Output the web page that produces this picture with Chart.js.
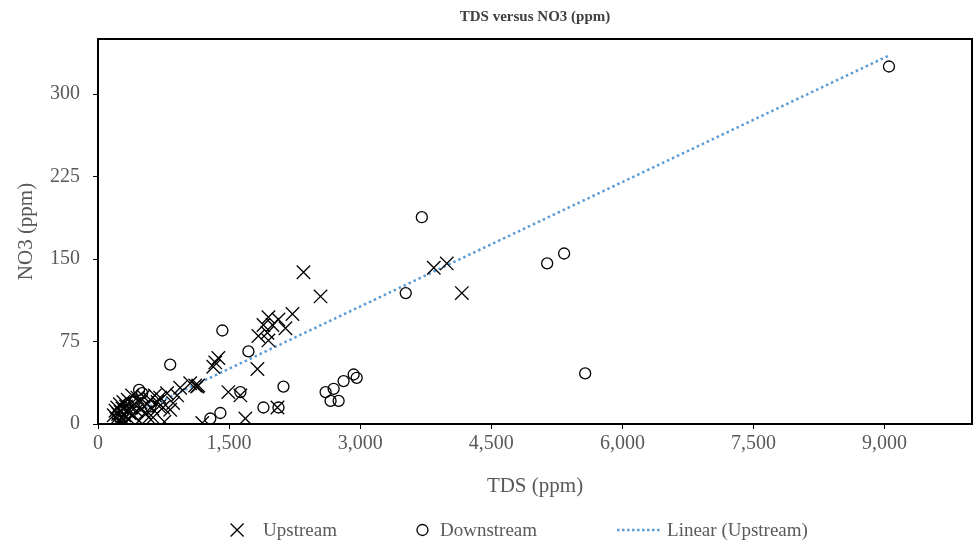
<!DOCTYPE html>
<html>
<head>
<meta charset="utf-8">
<script src="https://cdn.jsdelivr.net/npm/chart.js@4"></script>
<style>
  html, body { margin: 0; padding: 0; background: #fff; }
  #wrap { width: 975px; height: 544px; }
</style>
</head>
<body>
<div id="wrap"><canvas id="tdsChart" width="975" height="544"></canvas></div>
<script>
// values
const upTds = [2351, 2546, 3842, 3991, 4163, 2225, 1950, 2065, 1893, 1996, 2145, 1938, 1950, 1835,
    1342, 1377, 1319, 1824, 1491, 1629, 2053, 1686, 1055, 1135, 940, 906, 860, 826, 1193, 711, 745,
    630, 539, 1112, 1147,
    180, 200, 210, 220, 230, 240, 250, 260, 270, 280, 290, 300, 310, 320, 330, 340, 350, 360, 380,
    390, 400, 420, 440, 450, 470, 480, 500, 520, 560, 580, 600, 620, 650, 680, 700, 790, 760, 230, 300];
const upNo3 = [138, 116, 142, 146, 119, 100, 97, 95, 90, 90, 87, 83, 76, 80,
    56, 60, 52, 50, 29, 26, 15, 5, 37, 34, 33, 26, 19, 13, 1, 24, 15,
    6, 10, 35, 35,
    8, 12, 5, 15, 9, 3, 18, 11, 6, 14, 20, 8, 2, 16, 12, 22, 5, 10, 15,
    26, 8, 18, 12, 24, 3, 20, 14, 25, 18, 6, 22, 14, 26, 20, 16, 28, 2, 0, 0];

const downTds = [9050, 3705, 3521, 5139, 5333, 5574, 1423, 1721, 826, 2122, 1629, 1893, 2065, 1400,
    1285, 2604, 2696, 2810, 2925, 2960, 2661, 2753, 470, 505, 300, 420, 600, 250];
const downNo3 = [325, 188, 119, 146, 155, 46, 85, 66, 54, 34, 29, 15, 15, 10,
    5, 29, 32, 39, 45, 42, 21, 21, 31, 28, 12, 20, 16, 6];

// ends of the Excel linear trendline (Upstream)
const trendTds = [200, 9050];
const trendNo3 = [1.2, 335];

const xTicks = [0, 1500, 3000, 4500, 6000, 7500, 9000];
const yTicks = [0, 75, 150, 225, 300];

const serif = "'Liberation Serif', 'Times New Roman', serif";
const grey = '#595959';
const trendBlue = '#5B9BD5';

const toPoints = (xs, ys) => xs.map((x, i) => ({x: x, y: ys[i]}));

const frame = {
    id: 'frame',
    afterDatasetsDraw(chart) {
        const a = chart.chartArea, c = chart.ctx;
        c.save();
        c.strokeStyle = '#000';
        c.lineWidth = 2;
        c.strokeRect(a.left, a.top, a.right - a.left, a.bottom - a.top);
        c.restore();
    }
};

// hand-drawn legend so the dotted sample can be long like in Excel
const bottomLegend = {
    id: 'bottomLegend',
    afterDraw(chart) {
        const c = chart.ctx;
        const y = 530;
        c.save();
        c.font = '19px ' + serif;
        c.fillStyle = grey;
        c.textBaseline = 'middle';
        const items = [
            {label: 'Upstream', kind: 'x', w: 14, gap: 19},
            {label: 'Downstream', kind: 'o', w: 11, gap: 12},
            {label: 'Linear (Upstream)', kind: 'line', w: 43, gap: 7}
        ];
        const spacing = 80;
        let total = 0;
        items.forEach((it, i) => {
            it.tw = c.measureText(it.label).width;
            total += it.w + it.gap + it.tw + (i ? spacing : 0);
        });
        let x = 519 - total / 2;
        items.forEach((it, i) => {
            if (i) x += spacing;
            const cx = x + it.w / 2;
            c.strokeStyle = '#000';
            c.lineWidth = 1.3;
            c.setLineDash([]);
            if (it.kind === 'x') {
                c.beginPath();
                c.moveTo(cx - 6.5, y - 6.5); c.lineTo(cx + 6.5, y + 6.5);
                c.moveTo(cx + 6.5, y - 6.5); c.lineTo(cx - 6.5, y + 6.5);
                c.stroke();
            } else if (it.kind === 'o') {
                c.beginPath();
                c.arc(cx, y, 5.5, 0, Math.PI * 2);
                c.stroke();
            } else {
                c.strokeStyle = trendBlue;
                c.lineWidth = 2.5;
                c.setLineDash([2.5, 2.5]);
                c.beginPath();
                c.moveTo(x, y); c.lineTo(x + it.w, y);
                c.stroke();
            }
            x += it.w + it.gap;
            c.fillText(it.label, x, y + 1);
            x += it.tw;
        });
        c.restore();
    }
};

const ctx = document.getElementById('tdsChart').getContext('2d');

const chart = new Chart(ctx, {
    type: 'scatter',
    data: {
        datasets: [
            {
                label: 'Upstream',
                data: toPoints(upTds, upNo3),
                pointStyle: 'crossRot',
                pointRadius: 9.5,
                pointHoverRadius: 9.5,
                borderColor: '#000',
                backgroundColor: '#000',
                pointBorderWidth: 1.3
            },
            {
                label: 'Downstream',
                data: toPoints(downTds, downNo3),
                pointStyle: 'circle',
                pointRadius: 5.5,
                pointHoverRadius: 5.5,
                borderColor: '#000',
                backgroundColor: 'rgba(0,0,0,0)',
                pointBorderWidth: 1.3
            },
            {
                label: 'Linear (Upstream)',
                data: toPoints(trendTds, trendNo3),
                showLine: true,
                pointRadius: 0,
                borderColor: trendBlue,
                borderWidth: 2.5,
                borderDash: [2.5, 3],
                fill: false
            }
        ]
    },
    plugins: [frame, bottomLegend],
    options: {
        responsive: false,
        animation: false,
        layout: {autoPadding: false, padding: {left: 0, right: 3, top: 0, bottom: 36}},
        plugins: {
            legend: {display: false},
            tooltip: {enabled: false},
            title: {
                display: true,
                fullSize: false,
                text: 'TDS versus NO3 (ppm)',
                color: '#404040',
                font: {family: serif, size: 15, weight: 'bold'},
                padding: {top: 8, bottom: 13}
            }
        },
        scales: {
            x: {
                type: 'linear',
                min: 0,
                max: 10000,
                afterBuildTicks: s => { s.ticks = xTicks.map(v => ({value: v})); },
                afterFit: s => { s.height = 84; s.paddingLeft = 0; s.paddingRight = 0; },
                ticks: {
                    color: grey,
                    font: {family: serif, size: 20},
                    padding: 3,
                    maxRotation: 0,
                    callback: v => v.toLocaleString('en-US')
                },
                grid: {display: true, drawOnChartArea: false, drawTicks: true, tickLength: 5, color: '#000'},
                border: {display: true, color: '#000', width: 1.5},
                title: {
                    display: true,
                    text: 'TDS (ppm)',
                    color: grey,
                    font: {family: serif, size: 21},
                    padding: {top: 0, bottom: 9}
                }
            },
            y: {
                type: 'linear',
                min: 0,
                max: 350,
                afterBuildTicks: s => { s.ticks = yTicks.map(v => ({value: v})); },
                afterFit: s => { s.width = 98; s.paddingTop = 0; s.paddingBottom = 0; },
                ticks: {
                    color: grey,
                    font: {family: serif, size: 20},
                    padding: 13
                },
                grid: {display: true, drawOnChartArea: false, drawTicks: true, tickLength: 5, color: '#000'},
                border: {display: true, color: '#000', width: 1.5},
                title: {
                    display: true,
                    text: 'NO3 (ppm)',
                    color: grey,
                    font: {family: serif, size: 21},
                    padding: {top: 14, bottom: 0}
                }
            }
        }
    }
});
</script>
</body>
</html>
